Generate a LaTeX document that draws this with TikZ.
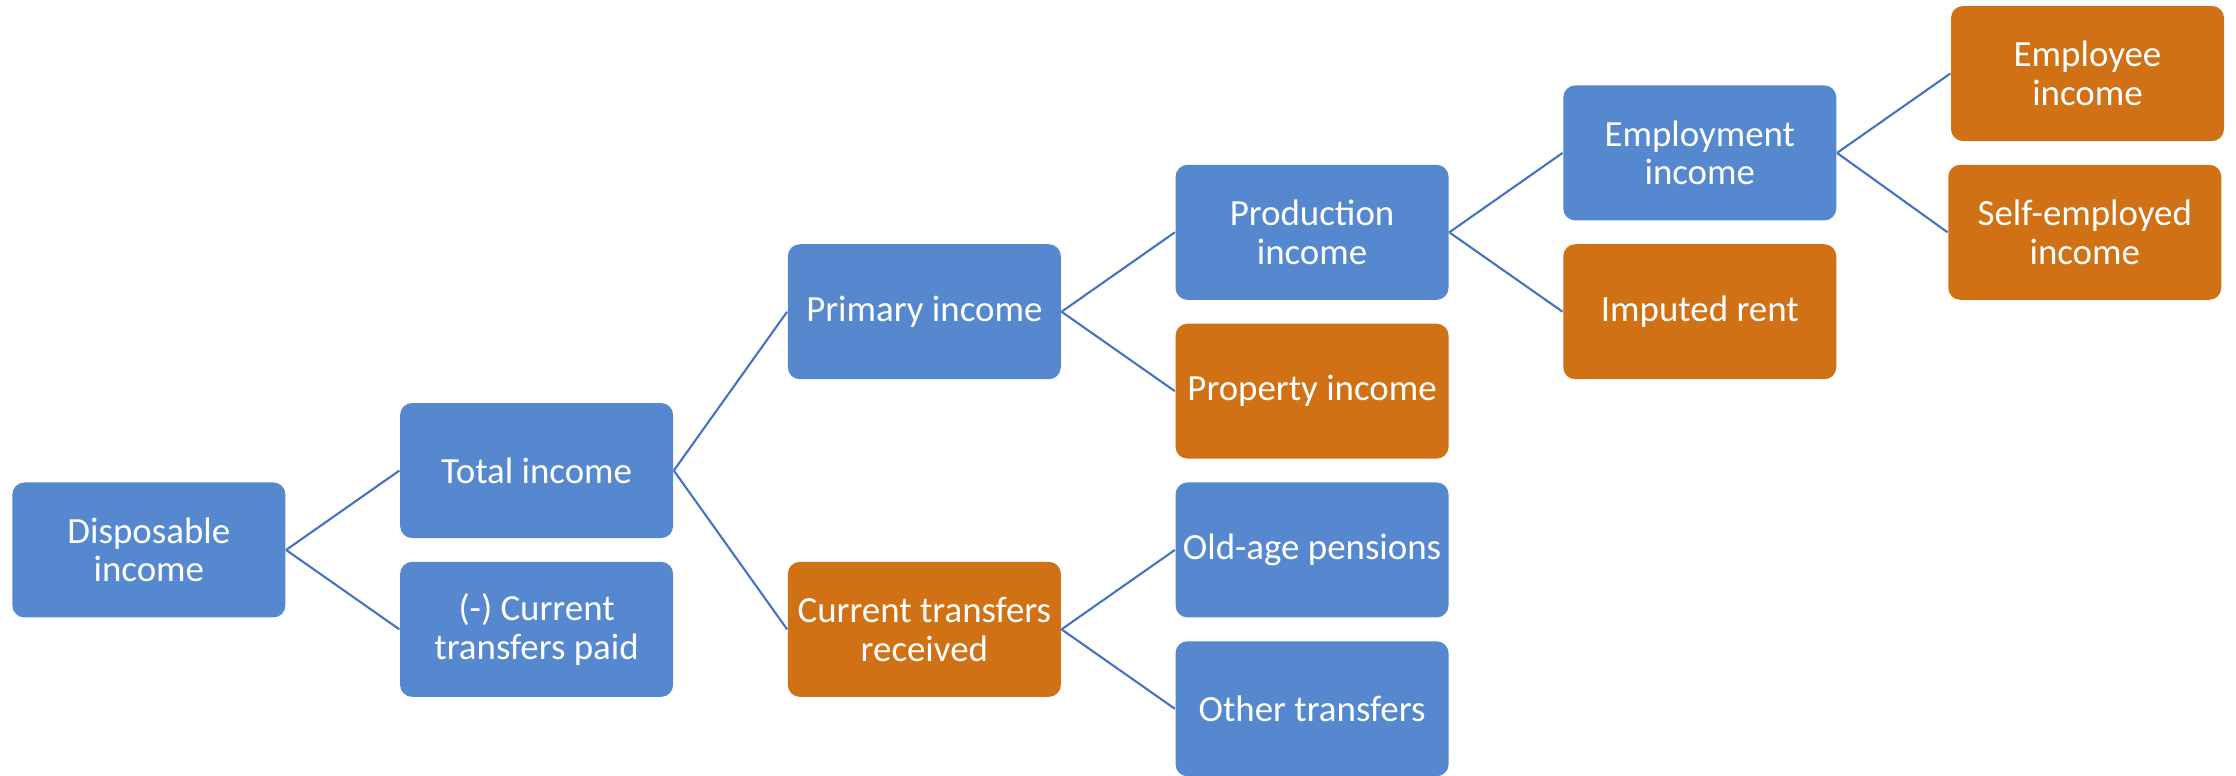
\documentclass[tikz,border=0pt]{standalone}
\usepackage{fontspec}
\setmainfont{Carlito}
\usepackage{tikz}
\definecolor{boxblue}{HTML}{5588CF}
\definecolor{boxorange}{HTML}{D07115}
\definecolor{linkblue}{HTML}{4472C4}

\begin{document}
\begin{tikzpicture}[x=3.877cm, y=-0.794cm,
    box/.style={rounded corners=0.12cm, minimum width=2.73cm, minimum height=1.35cm,
      inner sep=0pt, align=center, text=white, font=\fontsize{10.5}{11}\selectfont},
    inc/.style={box, fill=boxblue},
    part/.style={box, fill=boxorange},
    link/.style={linkblue, line width=0.6pt}]
  \useasboundingbox (-0.384,-0.926) rectangle (5.383,8.835);
  \node[inc] (disp) at (0,6) {Disposable\\income};
  \node[inc] (total) at (1,5) {Total income};
  \node[inc] (paid) at (1,7) {(-) Current\\transfers paid};
  \node[inc] (primary) at (2,3) {Primary income};
  \node[part] (received) at (2,7) {Current transfers\\received};
  \node[inc] (prod) at (3,2) {Production\\income};
  \node[part] (prop) at (3,4) {Property income};
  \node[inc] (pens) at (3,6) {Old-age pensions};
  \node[inc] (other) at (3,8) {Other transfers};
  \node[inc] (empl) at (4,1) {Employment\\income};
  \node[part] (rent) at (4,3) {Imputed rent};
  \node[part] (employee) at (5,0) {Employee\\income};
  \node[part] (self) at (4.993,2) {Self-employed\\income};
  \draw[link] (disp.east) -- (total.west);
  \draw[link] (disp.east) -- (paid.west);
  \draw[link] (total.east) -- (primary.west);
  \draw[link] (total.east) -- (received.west);
  \draw[link] (primary.east) -- (prod.west);
  \draw[link] (primary.east) -- (prop.west);
  \draw[link] (received.east) -- (pens.west);
  \draw[link] (received.east) -- (other.west);
  \draw[link] (prod.east) -- (empl.west);
  \draw[link] (prod.east) -- (rent.west);
  \draw[link] (empl.east) -- (employee.west);
  \draw[link] (empl.east) -- (self.west);
\end{tikzpicture}
\end{document}
